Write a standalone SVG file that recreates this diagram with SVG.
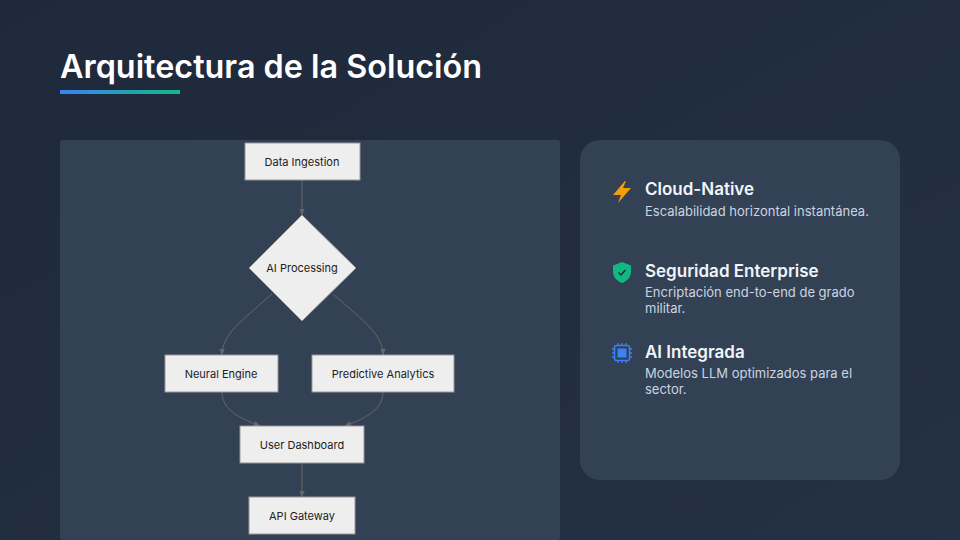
<svg xmlns="http://www.w3.org/2000/svg" width="960" height="540" viewBox="0 0 960 540">
<defs>
<linearGradient id="bg" x1="0" y1="0" x2="1" y2="1"><stop offset="0" stop-color="#1e293b"/><stop offset="1" stop-color="#243044"/></linearGradient>
<linearGradient id="ul" x1="0" y1="0" x2="1" y2="0"><stop offset="0" stop-color="#3b82f6"/><stop offset="1" stop-color="#10b981"/></linearGradient>
<marker id="ah" viewBox="0 0 10 10" refX="9" refY="5" markerWidth="7" markerHeight="7" orient="auto"><path d="M0,1 L10,5 L0,9 z" fill="#666"/></marker>
<style>
.n{fill:#eeeeee;stroke:#999;stroke-width:1}
.nt{font-family:Inter,"Liberation Sans",sans-serif;font-size:11px;fill:#222;text-anchor:middle;dominant-baseline:central}
.c{fill:none;stroke:#666;stroke-width:1;marker-end:url(#ah)}
.h{font-family:Inter,"Liberation Sans",sans-serif;font-size:17px;font-weight:600;fill:#f1f5f9}
.d{font-family:Inter,"Liberation Sans",sans-serif;font-size:13px;fill:#cbd5e1}
</style>
</defs>
<rect width="960" height="540" fill="url(#bg)"/>
<text x="60" y="78" font-family="Inter,'Liberation Sans',sans-serif" font-size="32" font-weight="600" fill="#ffffff" textLength="422" lengthAdjust="spacingAndGlyphs">Arquitectura de la Solución</text>
<rect x="60" y="90" width="120" height="4" fill="url(#ul)"/>
<rect x="60" y="140" width="500" height="400" rx="3" fill="#334155"/>
<g id="connectors">
<path class="c" d="M302,180 L302,215"/>
<path class="c" d="M272,294 C240,322 222,335 222,355"/>
<path class="c" d="M333,294 C365,322 383,335 383,355"/>
<path class="c" d="M222,392 C222,412 245,420 260,426"/>
<path class="c" d="M383,392 C383,412 360,420 345,426"/>
<path class="c" d="M302,463 L302,497"/>
</g>
<g id="data-ingestion"><rect class="n" x="245" y="143" width="115" height="37"/><text class="nt" x="302" y="162">Data Ingestion</text></g>
<g id="ai-processing"><path class="n" d="M302,215 L356,268 L302,321 L249,268 z"/><text class="nt" x="302" y="268">AI Processing</text></g>
<g id="neural-engine"><rect class="n" x="165" y="355" width="113" height="37"/><text class="nt" x="221" y="374">Neural Engine</text></g>
<g id="predictive-analytics"><rect class="n" x="312" y="355" width="142" height="37"/><text class="nt" x="383" y="374">Predictive Analytics</text></g>
<g id="user-dashboard"><rect class="n" x="240" y="426" width="124" height="37"/><text class="nt" x="302" y="445">User Dashboard</text></g>
<g id="api-gateway"><rect class="n" x="249" y="497" width="106" height="37"/><text class="nt" x="302" y="516">API Gateway</text></g>
<g id="features">
<rect x="580" y="140" width="320" height="340" rx="20" fill="#334155"/>
<path d="M625,181 L613,195 L621,195 L618,203 L631,188 L623,188 L626,181 z" fill="#f59e0b"/>
<text class="h" x="645" y="195">Cloud-Native</text>
<text class="d" x="645" y="216">Escalabilidad horizontal instantánea.</text>
<path d="M622,262 L631,265.5 L631,272 C631,277 627,281 622,283 C617,281 613,277 613,272 L613,265.5 z" fill="#10b981"/>
<path d="M618.5,272.5 L621,275 L625.5,270" fill="none" stroke="#1e293b" stroke-width="1.5"/>
<text class="h" x="645" y="277">Seguridad Enterprise</text>
<text class="d" x="645" y="297">Encriptación end-to-end de grado</text>
<text class="d" x="645" y="313">militar.</text>
<rect x="614.5" y="345.5" width="15" height="15" rx="2" fill="none" stroke="#3b82f6" stroke-width="1.5"/>
<rect x="617.5" y="348.5" width="9" height="9" fill="#3b82f6"/>
<path d="M618,343v2.5M622,343v2.5M626,343v2.5M618,360.5v2.5M622,360.5v2.5M626,360.5v2.5M612,349h2.5M612,353h2.5M612,357h2.5M629.5,349h2.5M629.5,353h2.5M629.5,357h2.5" stroke="#3b82f6" stroke-width="1.3"/>
<text class="h" x="645" y="358">AI Integrada</text>
<text class="d" x="645" y="378">Modelos LLM optimizados para el</text>
<text class="d" x="645" y="394">sector.</text>
</g>
</svg>
